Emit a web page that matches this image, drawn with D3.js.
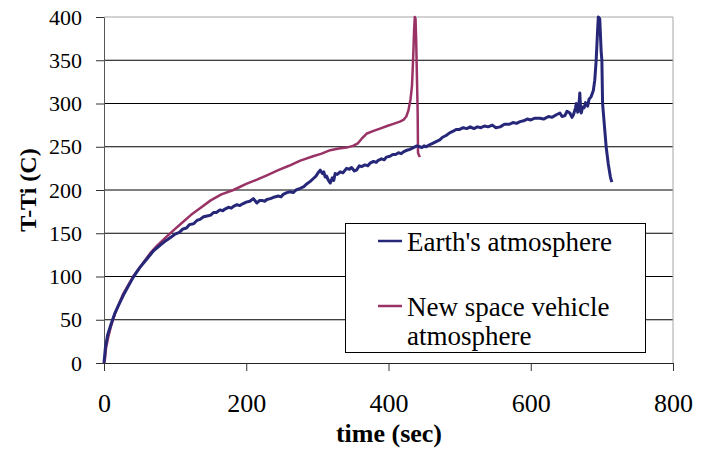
<!DOCTYPE html>
<html>
<head>
<meta charset="utf-8">
<script src="https://cdn.jsdelivr.net/npm/d3@7"></script>
<style>
  body { margin: 0; background: #fff; }
  svg { display: block; font-family: "Liberation Serif", "Times New Roman", serif; }
</style>
</head>
<body>
<svg id="chart" width="708" height="452"></svg>
<script>
// values
var xTicks = [0, 200, 400, 600, 800];
var yTicks = [0, 50, 100, 150, 200, 250, 300, 350, 400];

var earthT = [0, 2, 5, 10, 15, 20, 27, 35, 41, 50, 60, 70, 80, 88, 95, 100, 106, 111, 116, 120,
  126, 131, 135, 140, 145, 150, 154, 158, 163, 167, 170, 175, 179, 182, 187, 191, 195, 200, 205, 210,
  213, 215, 219, 222, 226, 229, 234, 240, 245, 249, 252, 257, 262, 266, 270, 276, 281, 285, 290, 294,
  298, 301, 304, 307, 309, 311, 313, 315, 318, 321, 323, 325, 328, 332, 336, 341, 345, 348, 352, 355,
  359, 362, 367, 371, 374, 379, 383, 385, 390, 394, 397, 402, 406, 410, 414, 418, 421, 426, 430, 435,
  440, 444, 447, 450, 453, 457, 462, 467, 472, 476, 481, 486, 491, 495, 500, 505, 510, 515, 520, 525,
  530, 535, 540, 546, 551, 557, 563, 570, 575, 580, 585, 590, 595, 600, 606, 613, 618, 625, 630, 636,
  641, 644, 648, 651, 655, 658, 660, 663, 664, 666, 667, 669, 670, 671, 673, 675, 677, 678, 680, 682,
  685, 688, 690, 692, 694, 695, 697, 699, 700, 701, 704, 706, 709, 712, 714];
var earthV = [0, 18, 32, 45, 57, 66, 78, 90, 99, 110, 120, 130, 137, 142, 146, 149, 151, 155, 156, 160,
  161, 165, 166, 169, 170, 171, 174, 174, 177, 176, 178, 180, 179, 181, 183, 182, 184, 186, 187, 190,
  187, 185, 188, 188, 187, 189, 190, 192, 193, 192, 195, 197, 198, 197, 200, 202, 204, 207, 210, 213,
  216, 220, 223, 219, 221, 215, 216, 212, 208, 214, 211, 219, 218, 221, 220, 225, 224, 226, 222, 223,
  228, 227, 229, 228, 231, 233, 232, 234, 236, 235, 238, 239, 241, 241, 243, 242, 244, 246, 247, 249,
  251, 250, 249, 251, 250, 252, 254, 256, 258, 261, 263, 266, 268, 270, 270, 272, 271, 273, 271, 273,
  272, 274, 273, 275, 272, 273, 276, 276, 278, 277, 279, 280, 282, 281, 283, 283, 282, 285, 284, 287,
  289, 285, 286, 291, 289, 284, 287, 295, 300, 290, 291, 312, 295, 289, 296, 295, 301, 300, 297, 305,
  308, 315, 327, 350, 385, 400, 398, 360, 350, 300, 270, 250, 230, 215, 209];

var vehicleT = [0, 1.4, 3, 6, 10, 15.5, 20, 27, 34, 41, 50, 57, 65, 75, 88, 100, 111, 122, 135, 150,
  165, 182, 200, 215, 229, 245, 260, 276, 294, 306, 318, 330, 341, 350, 357, 362, 369, 378, 388, 398,
  409, 416, 421, 425, 428, 431, 433, 434, 435, 436, 437, 438, 439, 440, 441, 441.5, 443, 444];
var vehicleV = [0, 5, 18, 30, 43, 57, 66, 80, 90, 100, 110, 118, 127, 136, 146, 155, 163, 171, 179, 188,
  195, 200, 207, 212, 217, 223, 228, 234, 239, 242, 246, 248, 249, 251, 254, 259, 265, 268, 271, 274,
  277, 279, 281, 285, 292, 305, 320, 339, 360, 385, 400, 398, 370, 330, 290, 243, 240, 238];

var seriesNames = ["Earth's atmosphere", "New space vehicle atmosphere"];
var seriesColors = ["#27277a", "#993366"];

var svg = d3.select("#chart");

var plotLeft = 104, plotRight = 673, plotTop = 17, plotBottom = 363;

var x = d3.scaleLinear().domain([0, 800]).range([plotLeft, plotRight]);
var y = d3.scaleLinear().domain([0, 400]).range([plotBottom, plotTop]);

// gridlines
svg.append("g")
   .selectAll("line")
   .data(yTicks.filter(function(d) { return d > 0 && d < 400; }))
   .enter().append("line")
   .attr("x1", plotLeft).attr("x2", plotRight)
   .attr("y1", function(d) { return y(d); })
   .attr("y2", function(d) { return y(d); })
   .attr("stroke", "#000")
   .attr("stroke-width", 1);

// top and right border
svg.append("line")
   .attr("x1", plotLeft).attr("x2", plotRight)
   .attr("y1", y(400)).attr("y2", y(400))
   .attr("stroke", "#a6a6a6");
svg.append("line")
   .attr("x1", plotRight).attr("x2", plotRight)
   .attr("y1", y(400)).attr("y2", plotBottom)
   .attr("stroke", "#a6a6a6");

// y axis
var yAxis = svg.append("g")
   .attr("transform", "translate(" + plotLeft + ",0)")
   .call(d3.axisLeft(y).tickValues(yTicks).tickSize(8).tickSizeOuter(0).tickPadding(14));
yAxis.select(".domain").attr("stroke", "#555");
yAxis.selectAll(".tick line").attr("stroke", "#333");
yAxis.selectAll("text")
     .attr("font-size", "22px")
     .attr("font-family", "Liberation Serif, serif")
     .attr("fill", "#000");

// x axis
var xAxis = svg.append("g")
   .attr("transform", "translate(0," + plotBottom + ")")
   .call(d3.axisBottom(x).tickValues(xTicks).tickSize(8).tickSizeOuter(0));
xAxis.select(".domain").attr("stroke", "#222");
xAxis.selectAll(".tick line").attr("stroke", "#333");
xAxis.selectAll("text")
     .attr("y", 49)
     .attr("dy", null)
     .attr("font-size", "26px")
     .attr("font-family", "Liberation Serif, serif")
     .attr("fill", "#000");

// axis titles
svg.append("text")
   .attr("transform", "translate(36,190) rotate(-90)")
   .attr("text-anchor", "middle")
   .attr("font-size", "24px")
   .attr("font-weight", "bold")
   .text("T-Ti (C)");

svg.append("text")
   .attr("x", 389)
   .attr("y", 442)
   .attr("text-anchor", "middle")
   .attr("font-size", "26px")
   .attr("font-weight", "bold")
   .text("time (sec)");

// lines
var line = d3.line()
   .x(function(d) { return x(d[0]); })
   .y(function(d) { return y(d[1]); });

var earth = earthT.map(function(t, i) { return [t, earthV[i]]; });
var vehicle = vehicleT.map(function(t, i) { return [t, vehicleV[i]]; });

svg.append("path")
   .datum(vehicle)
   .attr("d", line)
   .attr("fill", "none")
   .attr("stroke", seriesColors[1])
   .attr("stroke-width", 2.5)
   .attr("stroke-linejoin", "round");

svg.append("path")
   .datum(earth)
   .attr("d", line)
   .attr("fill", "none")
   .attr("stroke", seriesColors[0])
   .attr("stroke-width", 3)
   .attr("stroke-linejoin", "round");

// legend
var lg = svg.append("g");
lg.append("rect")
  .attr("x", 345.5).attr("y", 223.5)
  .attr("width", 300).attr("height", 129)
  .attr("fill", "#fff")
  .attr("stroke", "#000");

lg.append("line")
  .attr("x1", 378).attr("x2", 402)
  .attr("y1", 241).attr("y2", 241)
  .attr("stroke", seriesColors[0]).attr("stroke-width", 2.5);
lg.append("text")
  .attr("x", 407).attr("y", 251)
  .attr("font-size", "27px")
  .text(seriesNames[0]);

lg.append("line")
  .attr("x1", 378).attr("x2", 402)
  .attr("y1", 306).attr("y2", 306)
  .attr("stroke", seriesColors[1]).attr("stroke-width", 2.5);
lg.append("text")
  .attr("x", 407).attr("y", 316)
  .attr("font-size", "27px")
  .text("New space vehicle");
lg.append("text")
  .attr("x", 407).attr("y", 345)
  .attr("font-size", "27px")
  .text("atmosphere");
</script>
</body>
</html>
